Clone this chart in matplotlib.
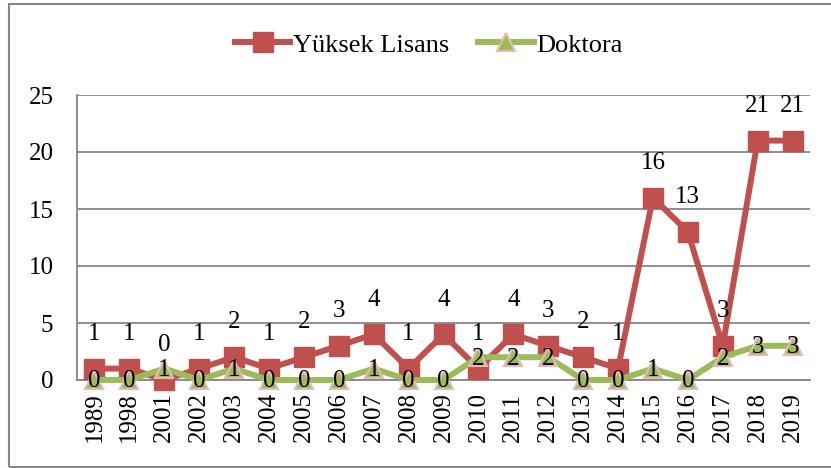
import matplotlib
matplotlib.use('Agg')
import matplotlib.pyplot as plt
from matplotlib.patches import Rectangle

years = ['1989', '1998', '2001', '2002', '2003', '2004', '2005', '2006', '2007', '2008',
         '2009', '2010', '2011', '2012', '2013', '2014', '2015', '2016', '2017', '2018', '2019']
yuksek_lisans = [1, 1, 0, 1, 2, 1, 2, 3, 4, 1, 4, 1, 4, 3, 2, 1, 16, 13, 3, 21, 21]
doktora = [0, 0, 1, 0, 1, 0, 0, 0, 1, 0, 0, 2, 2, 2, 0, 0, 1, 0, 2, 3, 3]
yticks = [0, 5, 10, 15, 20, 25]

RED = '#C0504D'
GREEN = '#9BBB59'
PINK = '#E6B9B8'
GRID = '#868686'
FS = 18

plt.rcParams['font.family'] = ['Liberation Serif', 'DejaVu Serif']

fig = plt.figure(figsize=(8.31, 4.68), dpi=100)
ax = fig.add_axes([77 / 831, 1 - 380 / 468, (810 - 77) / 831, (380 - 95) / 468])

x = list(range(len(years)))

ax.plot(x, yuksek_lisans, color=RED, lw=4.3, marker='s', markersize=14,
        markerfacecolor=RED, markeredgecolor=RED, label='Yüksek Lisans', zorder=3,
        clip_on=False)
ax.plot(x, doktora, color=GREEN, lw=4.3, marker='^', markersize=13,
        markerfacecolor=GREEN, markeredgecolor=PINK, markeredgewidth=1.5,
        label='Doktora', zorder=4, clip_on=False)

# data labels: above the squares, centred on the triangles
for xi, v in zip(x, yuksek_lisans):
    ax.annotate(str(v), (xi, v), xytext=(0, 25), textcoords='offset points',
                ha='center', va='center', fontsize=FS, zorder=6, annotation_clip=False)
for xi, v in zip(x, doktora):
    ax.annotate(str(v), (xi, v), xytext=(0, -1), textcoords='offset points',
                ha='center', va='center', fontsize=FS, zorder=6, annotation_clip=False)

ax.set_xlim(-0.5, len(years) - 0.5)
ax.set_ylim(0, 25)
ax.set_yticks(yticks)
ax.set_xticks(x)
ax.set_xticklabels(years, rotation=90)
ax.tick_params(axis='y', length=0, pad=17, labelsize=FS)
ax.tick_params(axis='x', length=0, pad=9, labelsize=FS)

ax.grid(axis='y', color=GRID, lw=1.3)
ax.set_axisbelow(True)
for s in ['top', 'right']:
    ax.spines[s].set_visible(False)
for s in ['left', 'bottom']:
    ax.spines[s].set_color(GRID)
    ax.spines[s].set_linewidth(1.3)

fig.legend(loc='center', bbox_to_anchor=(0.516, 0.904), ncol=2, frameon=False,
           fontsize=19, handlelength=2.1, handletextpad=0.1, columnspacing=1.1)

# outer chart border (right edge falls outside the image)
fig.patches.append(Rectangle((9 / 831, 1 / 468), 830 / 831, 463 / 468,
                             transform=fig.transFigure, fill=False,
                             edgecolor=GRID, lw=1.5))

fig.savefig('out.png', dpi=100)
